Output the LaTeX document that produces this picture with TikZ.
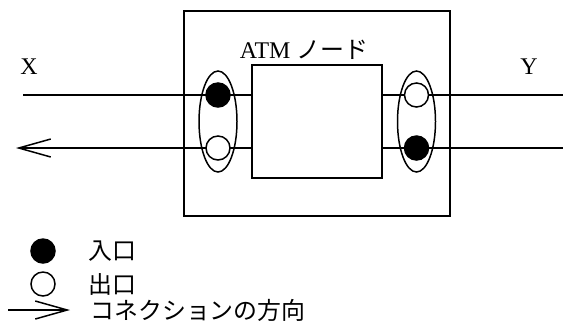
\documentclass[tikz,border=0pt]{standalone}
\usepackage{fontspec}
\setmainfont{Liberation Serif}
\newfontfamily\jp{Noto Sans CJK JP}
\usetikzlibrary{arrows.meta,positioning,shapes.geometric}
\tikzset{
    every node/.append style={align=center,font=\fontsize{12}{14}\selectfont},
    box/.style={rectangle,draw=black,line width=0.75pt,inner sep=0pt},
    port/.style={ellipse,draw=black,line width=0.75pt,minimum width=19bp,minimum height=50.5bp,inner sep=0pt},
    inport/.style={circle,draw=black,fill=black,line width=0.75pt,minimum size=12bp,inner sep=0pt},
    outport/.style={circle,draw=black,fill=white,line width=0.75pt,minimum size=12bp,inner sep=0pt},
    link/.style={line width=0.75pt},
    arr/.style={-{Straight Barb[length=16bp,width=9bp,line width=0.75pt]},line width=0.75pt},
    lbl/.style={inner sep=0pt,anchor=west}
}
\begin{document}
\begin{tikzpicture}[x=0.5bp,y=-0.5bp]
    \useasboundingbox (0,0) rectangle (563,327);
    \node[box,minimum width=133bp,minimum height=102.5bp] (atmbox) at (317,113.5) {};
    \node[box,minimum width=65bp,minimum height=56.5bp]   (core)   at (317,121.5) {};
    \node (atmlbl) at (304,50) {ATM {\jp ノード}};
    \node (xlbl) at (29,67) {X};
    \node (ylbl) at (529,67) {Y};

    \coordinate (xin)  at (23,95);
    \coordinate (xout) at (16,148);
    \coordinate (yout) at (563,95);
    \coordinate (yin)  at (563,148);

    \draw[link] (xin) -- (xin -| core.west);
    \draw[arr] (xout -| core.west) -- (xout);
    \draw[link] (yout -| core.east) -- (yout);
    \draw[link] (yin -| core.east) -- (yin);

    \node[port] (lport) at (218,121.5) {};
    \node[port] (rport) at (416.5,121.5) {};
    \node[inport]  (lin)  at (218,95) {};
    \node[outport] (lout) at (218,148) {};
    \node[outport] (rout) at (416.5,95) {};
    \node[inport]  (rin)  at (416.5,148) {};

    % legend
    \node[inport]  (keyin)  at (43,251) {};
    \node[lbl] (keyinlbl) at (88,251) {\jp 入口};
    \node[outport] (keyout) at (43,284) {};
    \node[lbl] (keyoutlbl) at (88,284) {\jp 出口};
    \coordinate (keya) at (8,310);
    \coordinate (keyb) at (70,310);
    \draw[arr] (keya) -- (keyb);
    \node[lbl] (keyarrlbl) at (90,310) {\jp コネクションの方向};
\end{tikzpicture}
\end{document}
